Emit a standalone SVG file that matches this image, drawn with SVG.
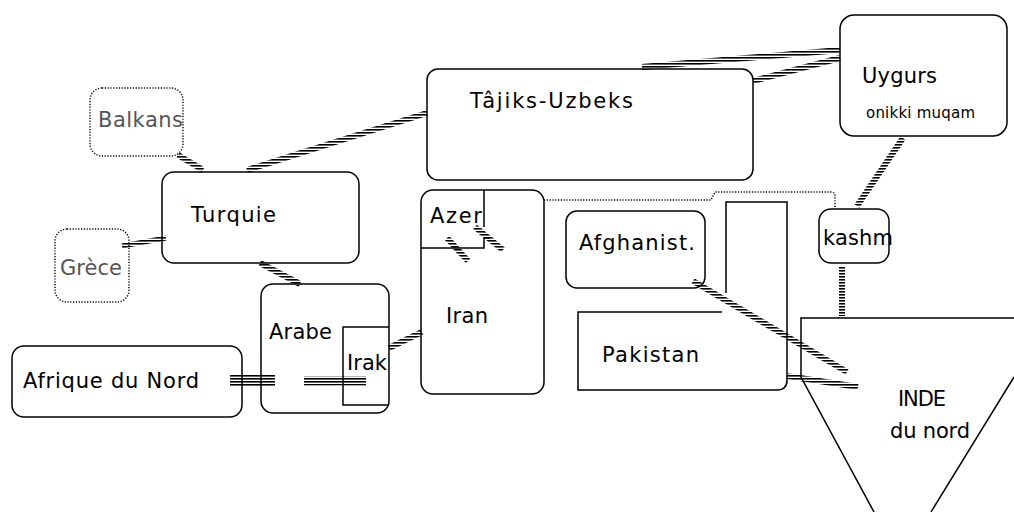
<svg xmlns="http://www.w3.org/2000/svg" width="1014" height="512" viewBox="0 0 1014 512">
<defs>
<pattern id="hs" patternUnits="userSpaceOnUse" width="8" height="3"><rect x="0" y="0" width="8" height="1.6" fill="#000"/></pattern>
<style>
.box{fill:none;stroke:#000;stroke-width:1.5}
.dot{fill:none;stroke:#000;stroke-width:1.4;stroke-dasharray:1.2 1.6}
.t{font-family:"DejaVu Sans","Liberation Sans",sans-serif;font-size:21px;fill:#000}
.tg{font-family:"DejaVu Sans","Liberation Sans",sans-serif;font-size:21px;fill:#555}
.ts{font-family:"DejaVu Sans","Liberation Sans",sans-serif;font-size:15px;fill:#000}
.h{fill:none;stroke:url(#hs);stroke-width:6}
</style>
</defs>
<rect width="1014" height="512" fill="#fff"/>
<g id="connectors">
<path class="h" d="M178,155 L203,170"/>
<path class="h" d="M247,170 L427,113"/>
<path class="h" style="stroke-width:5" d="M122,246 L166,238"/>
<path class="h" d="M260,263 L300,284"/>
<path class="h" style="stroke-width:12" d="M230,380 H275"/>
<path class="h" style="stroke-width:9" d="M304,381 H366"/>
<path class="h" d="M389,348 L422,332"/>
<path class="h" d="M447,238 L468,261"/>
<path class="h" d="M475,227 L503,250"/>
<path class="h" d="M642,67 L840,50"/>
<path class="h" d="M753,81 L840,58"/>
<path class="h" d="M903,138 L857,206"/>
<path class="h" d="M842,266 V316"/>
<path class="h" d="M693,281 L847,372"/>
<path class="h" d="M787,376 L858,387"/>
<path class="dot" d="M544,200 H711 L715,192 H831 Q835,192 835,196 V209"/>
</g>
<g id="balkans"><rect class="dot" x="90" y="88" width="93" height="68" rx="12"/><text class="tg" x="98" y="127" textLength="85">Balkans</text></g>
<g id="grece"><rect class="dot" x="55" y="229" width="74" height="73" rx="12"/><text class="tg" x="60" y="275" textLength="62">Grèce</text></g>
<g id="turquie"><rect class="box" x="162" y="172" width="197" height="91" rx="12"/><text class="t" x="191" y="222" textLength="85">Turquie</text></g>
<g id="tajiks"><rect class="box" x="427" y="69" width="326" height="111" rx="11"/><text class="t" x="470" y="108" textLength="163">Tâjiks-Uzbeks</text></g>
<g id="uygurs"><rect class="box" x="840" y="15" width="167" height="121" rx="14"/><text class="t" x="862" y="83" textLength="75">Uygurs</text><text class="ts" x="866" y="118" textLength="109">onikki muqam</text></g>
<g id="kashm"><rect class="box" x="819" y="209" width="70" height="54" rx="12"/><text class="t" x="823" y="245" textLength="70">kashm</text></g>
<g id="afghanistan"><rect class="box" x="566" y="211" width="139" height="77" rx="11"/><text class="t" x="579" y="250" textLength="116">Afghanist.</text></g>
<g id="iran"><rect class="box" x="421" y="190" width="123" height="204" rx="12"/><text class="t" x="446" y="323" textLength="42">Iran</text></g>
<g id="azer"><path class="box" d="M484,190 V227 M421,248 H484 V238 H490"/><text class="t" x="430" y="223" textLength="52">Azer</text></g>
<g id="arabe"><rect class="box" x="261" y="284" width="128" height="129" rx="12"/><text class="t" x="269" y="339" textLength="63">Arabe</text></g>
<g id="irak"><path class="box" d="M389,327 H343 V405 H389"/><text class="t" x="347" y="370" textLength="40">Irak</text></g>
<g id="afrique"><rect class="box" x="12" y="346" width="230" height="71" rx="12"/><text class="t" x="23" y="388" textLength="176">Afrique du Nord</text></g>
<g id="pakistan"><path class="box" d="M722,312 H578 V390 H777 Q787,390 787,380 M726,293 V202 H787 V380"/><text class="t" x="602" y="362" textLength="97">Pakistan</text></g>
<g id="inde"><path class="box" d="M1014,318 H801 V377 L874,512 M1014,377 L931,512"/><text class="t" x="898" y="406" textLength="48">INDE</text><text class="t" x="890" y="438" textLength="80">du nord</text></g>
</svg>
